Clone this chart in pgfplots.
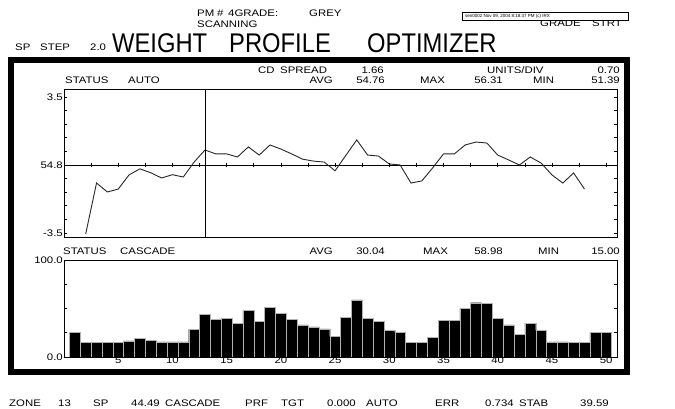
\documentclass[border=0pt]{standalone}
\usepackage{fontspec}
\setmainfont{Liberation Sans}
\usepackage{pgfplots}
\usepackage{pgfplotstable}
\pgfplotsset{compat=1.18}
\newfontfamily\wf[FakeStretch=1.2]{Liberation Sans}
\newfontfamily\tf[FakeStretch=0.88]{Liberation Sans}
\newcommand\sm{\wf\fontsize{9.5}{10}\selectfont}
\newcommand\titlefont{\tf\fontsize{27}{28}\selectfont}

\pgfplotstableread{
zone val
2 -3.55
3 -0.93
4 -1.39
5 -1.24
6 -0.51
7 -0.20
8 -0.40
9 -0.67
10 -0.50
11 -0.62
12 0.15
13 0.77
14 0.57
15 0.57
16 0.41
17 0.93
18 0.51
19 1.03
20 0.82
21 0.57
22 0.30
23 0.20
24 0.15
25 -0.30
26 0.50
27 1.29
28 0.51
29 0.46
30 0.05
31 0.00
32 -0.93
33 -0.82
34 -0.15
35 0.57
36 0.57
37 1.03
38 1.18
39 1.13
40 0.51
41 0.26
42 0.00
43 0.41
44 0.10
45 -0.51
46 -0.93
47 -0.41
48 -1.24
}\profile

\pgfplotstableread{
zone val
1 25.5
2 15
3 15
4 15
5 15
6 16.5
7 19
8 17
9 15.5
10 15.5
11 15.5
12 28.5
13 44
14 39
15 40
16 35
17 48
18 37
19 51
20 45
21 39
22 33
23 31
24 29
25 21
26 41
27 58.98
28 40
29 37
30 27.5
31 25.5
32 15
33 15
34 20.5
35 38
36 38
37 50
38 56
39 55
40 40
41 33
42 23.5
43 35
44 27.5
45 15.5
46 15.5
47 15
48 15
49 25.5
50 25.5
}\cascade

\begin{document}
\begin{tikzpicture}[x=1pt,y=1pt]
\useasboundingbox (0pt,0pt) rectangle (675pt,409pt);
\draw[line width=6.5pt] (11pt,349pt) rectangle (627pt,37pt);

\begin{axis}[at={(64pt,172pt)}, anchor=south west, width=553pt, height=148pt, scale only axis,
  xmin=0, xmax=51, ymin=-3.706, ymax=3.91,
  axis line style={line width=0.8pt},
  xtick=\empty,
  ytick={-3.5,0,3.5}, yticklabels={-3.5,54.8,3.5},
  minor ytick={-2.8,-2.1,-1.4,-0.7,0.7,1.4,2.1,2.8},
  tick align=inside, ytick pos=both,
  major tick length=3pt, minor tick length=3pt,
  tick style={black, line width=0.6pt},
  yticklabel style={font=\sm, inner sep=1pt}]
\addplot[black, line width=0.6pt] coordinates {(0,0) (51,0)};
\addplot[black, only marks, mark=|, mark size=2pt, mark options={line width=0.6pt}] coordinates {
(2.5,0) (5,0) (7.5,0) (10,0) (12.5,0) (15,0) (17.5,0) (20,0) (22.5,0) (25,0)
(27.5,0) (30,0) (32.5,0) (35,0) (37.5,0) (40,0) (42.5,0) (45,0) (47.5,0) (50,0)};
\addplot[black!85, line width=0.9pt] table[x=zone,y=val]{\profile};
\addplot[black, line width=0.8pt] coordinates {(13,-3.706) (13,3.91)};
\end{axis}

\begin{axis}[at={(64pt,52pt)}, anchor=south west, width=553pt, height=97pt, scale only axis,
  xmin=0, xmax=51, ymin=0, ymax=100,
  axis line style={line width=0.8pt},
  xtick={5,10,...,50}, xticklabels={5,10,15,20,25,30,35,40,45,50},
  xtick style={draw=none},
  ytick={0,100}, yticklabels={0.0,100.0},
  minor ytick={25,50,75},
  tick align=inside, ytick pos=both,
  major tick length=3pt, minor tick length=3pt,
  tick style={black, line width=0.6pt},
  yticklabel style={font=\sm, inner sep=1pt},
  xticklabel style={font=\sm, inner sep=1pt, yshift=1pt}]
\addplot[ybar, bar width=1, bar shift=0, fill=black, draw=gray!60, line width=0.3pt] table[x=zone,y=val]{\cascade};
\end{axis}

% title line
\node[anchor=base west, font=\titlefont, inner sep=0pt] at (112pt,356pt) {WEIGHT};
\node[anchor=base west, font=\titlefont, inner sep=0pt] at (229pt,356pt) {PROFILE};
\node[anchor=base west, font=\titlefont, inner sep=0pt] at (367pt,356pt) {OPTIMIZER};
\node[anchor=base west, font=\sm, inner sep=0pt] at (15pt,358pt) {SP};
\node[anchor=base west, font=\sm, inner sep=0pt] at (40pt,358pt) {STEP};
\node[anchor=base west, font=\sm, inner sep=0pt] at (90pt,358pt) {2.0};
\node[anchor=base west, font=\sm, inner sep=0pt] at (197pt,392pt) {PM};
\node[anchor=base west, font=\sm, inner sep=0pt] at (217pt,392pt) {\#};
\node[anchor=base west, font=\sm, inner sep=0pt] at (228pt,392pt) {4GRADE:};
\node[anchor=base west, font=\sm, inner sep=0pt] at (309pt,392pt) {GREY};
\node[anchor=base west, font=\sm, inner sep=0pt] at (197pt,381pt) {SCANNING};
\node[anchor=base west, font=\sm, inner sep=0pt] at (540pt,382pt) {GRADE};
\node[anchor=base west, font=\sm, inner sep=0pt] at (592pt,382pt) {STRT};
\draw[line width=0.8pt, fill=white] (462pt,397pt) rectangle (628pt,389pt);
\node[anchor=base west, font=\fontsize{4.5}{5}\selectfont, inner sep=0pt] at (465pt,391pt) {sen0002 Nov 09, 2004 8:18:37 PM (c) IRX};

% top plot header
\node[anchor=base west, font=\sm, inner sep=0pt] at (258pt,335pt) {CD};
\node[anchor=base west, font=\sm, inner sep=0pt] at (280pt,335pt) {SPREAD};
\node[anchor=base east, font=\sm, inner sep=0pt] at (384pt,335pt) {1.66};
\node[anchor=base west, font=\sm, inner sep=0pt] at (487pt,335pt) {UNITS/DIV};
\node[anchor=base east, font=\sm, inner sep=0pt] at (620pt,335pt) {0.70};
\node[anchor=base west, font=\sm, inner sep=0pt] at (65pt,325pt) {STATUS};
\node[anchor=base west, font=\sm, inner sep=0pt] at (128pt,325pt) {AUTO};
\node[anchor=base east, font=\sm, inner sep=0pt] at (333pt,325pt) {AVG};
\node[anchor=base east, font=\sm, inner sep=0pt] at (385pt,325pt) {54.76};
\node[anchor=base west, font=\sm, inner sep=0pt] at (420pt,325pt) {MAX};
\node[anchor=base east, font=\sm, inner sep=0pt] at (503pt,325pt) {56.31};
\node[anchor=base west, font=\sm, inner sep=0pt] at (533pt,325pt) {MIN};
\node[anchor=base east, font=\sm, inner sep=0pt] at (620pt,325pt) {51.39};

% bottom plot header
\node[anchor=base west, font=\sm, inner sep=0pt] at (63pt,154pt) {STATUS};
\node[anchor=base west, font=\sm, inner sep=0pt] at (120pt,154pt) {CASCADE};
\node[anchor=base east, font=\sm, inner sep=0pt] at (333pt,154pt) {AVG};
\node[anchor=base east, font=\sm, inner sep=0pt] at (385pt,154pt) {30.04};
\node[anchor=base west, font=\sm, inner sep=0pt] at (423pt,154pt) {MAX};
\node[anchor=base east, font=\sm, inner sep=0pt] at (503pt,154pt) {58.98};
\node[anchor=base west, font=\sm, inner sep=0pt] at (538pt,154pt) {MIN};
\node[anchor=base east, font=\sm, inner sep=0pt] at (620pt,154pt) {15.00};

% footer
\foreach \x/\t in {9/ZONE, 58/13, 93/SP, 131/44.49, 165/CASCADE, 245/PRF, 281/TGT, 327/0.000, 366/AUTO, 435/ERR, 485/0.734, 519/STAB, 580/39.59}
  \node[anchor=base west, font=\sm, inner sep=0pt] at (\x pt,2pt) {\t};
\end{tikzpicture}
\end{document}
